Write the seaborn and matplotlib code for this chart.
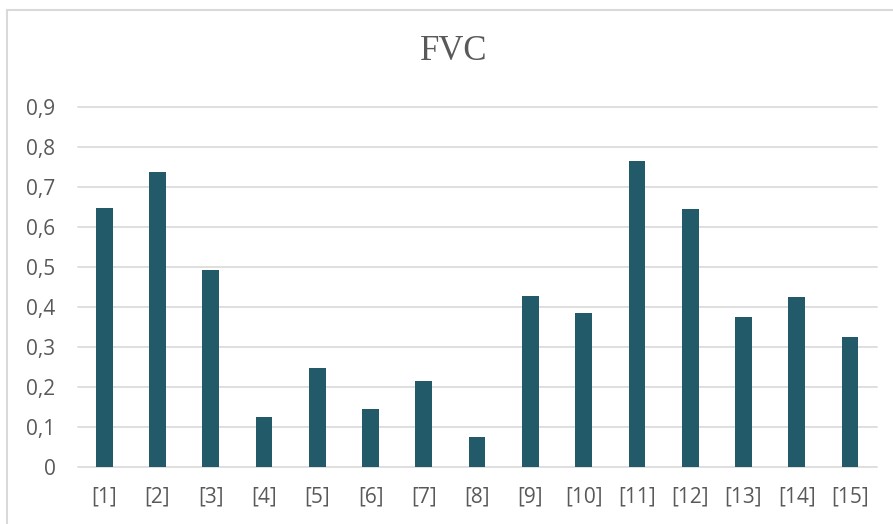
import matplotlib
matplotlib.use("Agg")
import matplotlib.pyplot as plt
from matplotlib.lines import Line2D
import seaborn as sns
import pandas as pd

# FVC value per study
studies = ["[1]", "[2]", "[3]", "[4]", "[5]", "[6]", "[7]", "[8]",
           "[9]", "[10]", "[11]", "[12]", "[13]", "[14]", "[15]"]
fvc = [0.646, 0.737, 0.492, 0.125, 0.247, 0.144, 0.215, 0.074,
       0.426, 0.384, 0.764, 0.643, 0.374, 0.424, 0.324]
y_ticks = [0.0, 0.1, 0.2, 0.3, 0.4, 0.5, 0.6, 0.7, 0.8, 0.9]

df = pd.DataFrame({"study": studies, "fvc": fvc})

sns.set_style("white")
plt.rcParams["font.family"] = ["Open Sans", "DejaVu Sans"]

W, H = 893, 524
fig = plt.figure(figsize=(W / 100, H / 100), dpi=100)
ax = fig.add_axes([77.6 / W, 1 - 466.7 / H, (876.6 - 77.6) / W, (466.7 - 106.7) / H])

bar_color = "#225A69"
grid_color = "#D9D9D9"
text_color = "#595959"

sns.barplot(data=df, x="study", y="fvc", color=bar_color, width=0.313,
            saturation=1, edgecolor="none", ax=ax, order=studies)

ax.set_xlim(-0.5, len(studies) - 0.5)
ax.set_ylim(0, 0.9)
ax.set_yticks(y_ticks)
ax.set_yticklabels(["0" if v == 0 else f"{v:.1f}".replace(".", ",") for v in y_ticks])
ax.set_xlabel("")
ax.set_ylabel("")

ax.set_axisbelow(True)
ax.yaxis.grid(True, color=grid_color, linewidth=1.2)
for gl in ax.get_ygridlines():
    gl.set_clip_on(False)
for s in ax.spines.values():
    s.set_visible(False)

ax.tick_params(axis="y", length=0, pad=16, labelsize=15, labelcolor=text_color)
ax.tick_params(axis="x", length=0, pad=14, labelsize=15, labelcolor=text_color)

fig.text(454 / W, 1 - 52 / H, "FVC", ha="center", va="center",
         fontsize=25, color=text_color, family=["Liberation Serif", "DejaVu Serif"])

# chart area frame (top and left edges visible)
fig.add_artist(Line2D([6.5 / W, 1.01], [1 - 10 / H, 1 - 10 / H],
                      transform=fig.transFigure, color=grid_color, linewidth=1.5))
fig.add_artist(Line2D([6.5 / W, 6.5 / W], [1 - 10 / H, -0.01],
                      transform=fig.transFigure, color=grid_color, linewidth=1.5))

fig.savefig("out.png", dpi=100, facecolor="white")
